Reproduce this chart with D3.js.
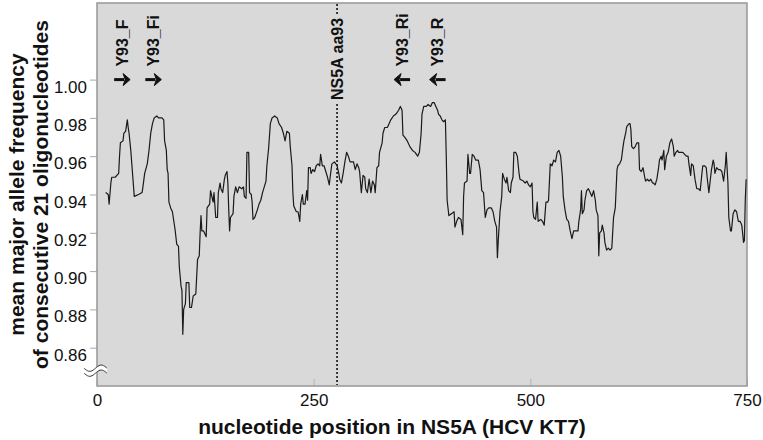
<!DOCTYPE html>
<html><head><meta charset="utf-8">
<script src="https://cdn.jsdelivr.net/npm/d3@7"></script>
<style>
html,body{margin:0;padding:0;background:#fff;}
svg{display:block;font-family:Arial,"Liberation Sans",sans-serif;}
</style></head>
<body><svg id="chart" width="763" height="440"></svg>
<script>
// ---- data ----
const positions = [10,13,14,16,17,21,25,26,27,30,31,33,35,36,37,39,41,43,48,52,53,55,58,60,62,64,66,69,71,73,75,77,78,80,81,82,83,85,87,90,92,94,95,97,98,99,100,102,103,106,107,109,111,114,116,118,119,120,121,123,126,127,130,131,132,134,135,137,139,140,142,143,145,147,148,150,151,152,153,154,157,158,160,162,164,167,169,170,172,173,175,176,178,179,180,182,185,187,189,191,193,195,196,198,200,202,205,208,210,213,215,217,219,222,223,225,226,227,230,232,234,235,237,238,240,242,243,244,246,247,249,251,253,255,257,258,260,262,264,266,268,269,271,274,277,279,280,282,284,286,288,290,292,294,296,298,300,302,303,305,307,309,310,312,314,316,318,320,321,323,325,326,329,330,332,335,337,339,342,345,348,350,351,352,353,355,358,361,364,367,370,372,374,375,377,380,382,385,387,389,391,393,394,396,398,400,402,403,404,406,409,412,413,415,417,420,422,423,424,427,428,430,431,433,435,437,440,442,444,446,448,450,452,455,457,459,461,462,463,465,467,468,470,472,473,475,477,478,480,481,483,485,487,488,492,494,496,498,500,502,503,504,506,508,509,512,514,516,518,520,521,523,525,527,529,531,533,535,537,538,540,542,544,546,548,550,553,555,556,558,559,560,562,563,565,567,569,571,573,575,576,578,579,580,582,583,585,586,588,590,592,594,596,598,600,601,603,605,607,608,610,611,612,614,615,616,617,619,621,623,625,626,628,630,632,633,635,637,639,641,642,644,646,648,649,651,652,654,655,657,659,661,663,665,666,668,670,671,673,676,678,680,682,683,685,686,688,690,692,694,696,698,699,701,703,704,706,708,709,711,712,713,715,717,719,721,723,725,726,728,729,731,732,734,736,738,740,742,744,746,747,748,749];
const frequencies = [.941,.940,.935,.946,.949,.949,.951,.960,.967,.968,.972,.973,.979,.975,.972,.963,.951,.939,.940,.941,.944,.951,.956,.963,.972,.977,.980,.981,.980,.980,.980,.979,.968,.963,.953,.951,.936,.933,.931,.922,.914,.913,.902,.892,.890,.867,.880,.883,.894,.894,.881,.881,.887,.888,.906,.908,.920,.929,.921,.921,.918,.933,.935,.942,.940,.936,.941,.928,.928,.941,.946,.943,.941,.948,.950,.952,.946,.932,.921,.928,.930,.939,.944,.941,.944,.943,.944,.939,.938,.962,.962,.941,.940,.936,.927,.928,.932,.935,.937,.941,.944,.947,.955,.964,.977,.980,.981,.980,.977,.975,.972,.968,.973,.972,.965,.955,.941,.934,.931,.931,.926,.935,.940,.935,.935,.942,.937,.954,.954,.951,.953,.952,.955,.956,.955,.961,.955,.955,.952,.949,.945,.949,.956,.957,.955,.951,.948,.946,.951,.957,.962,.960,.957,.957,.957,.953,.956,.954,.952,.941,.950,.949,.943,.941,.948,.941,.947,.945,.941,.954,.955,.962,.967,.972,.975,.975,.977,.979,.981,.982,.984,.986,.985,.984,.971,.970,.968,.965,.963,.962,.960,.962,.972,.982,.986,.986,.987,.986,.988,.988,.986,.984,.982,.981,.979,.978,.979,.960,.937,.929,.930,.931,.923,.926,.928,.927,.919,.939,.946,.947,.961,.951,.951,.961,.960,.958,.958,.953,.942,.941,.928,.932,.933,.933,.931,.926,.923,.907,.916,.931,.939,.951,.948,.946,.949,.942,.941,.946,.949,.962,.962,.960,.951,.948,.947,.946,.947,.945,.944,.946,.931,.928,.927,.936,.926,.927,.926,.924,.936,.936,.937,.956,.955,.958,.957,.962,.963,.960,.949,.939,.932,.927,.926,.921,.917,.921,.921,.921,.926,.932,.942,.930,.932,.937,.942,.943,.941,.939,.942,.937,.932,.929,.908,.920,.921,.924,.920,.915,.911,.912,.911,.912,.928,.933,.953,.955,.956,.958,.965,.968,.972,.975,.976,.977,.977,.974,.965,.964,.965,.967,.967,.953,.952,.954,.949,.947,.948,.947,.948,.946,.946,.945,.948,.954,.958,.960,.958,.963,.953,.960,.962,.967,.969,.965,.960,.962,.963,.962,.962,.962,.961,.960,.960,.956,.950,.956,.955,.948,.943,.943,.942,.951,.955,.955,.954,.949,.941,.949,.953,.958,.956,.951,.954,.953,.953,.952,.947,.955,.962,.946,.928,.921,.921,.930,.932,.931,.926,.926,.924,.915,.916,.937,.948];

const xTicks = [0, 250, 500, 750];
const yTicks = [0.86, 0.88, 0.90, 0.92, 0.94, 0.96, 0.98, 1.00];

const primerNames = ["Y93_F", "Y93_Fi", "Y93_Ri", "Y93_R"];
const primerPositions = [29, 65, 352, 393];
const primerDirections = ["forward", "forward", "reverse", "reverse"];

const markerLabel = "NS5A aa93";
const markerPosition = 277;

const xTitle = "nucleotide position in NS5A (HCV KT7)";
const yTitleLines = ["mean major allele frequency", "of consecutive 21 oligonucleotides"];

// ---- chart ----
const svg = d3.select("#chart");
const plot = {left: 97, right: 747, top: 3, bottom: 386};
const x = d3.scaleLinear().domain([0, 750]).range([plot.left, plot.right]);
const y = d3.scaleLinear().domain([0.84, 1.04]).range([plot.bottom, plot.top]);

const bg = "#d9d9d9";
svg.append("rect")
  .attr("x", plot.left).attr("y", plot.top)
  .attr("width", plot.right - plot.left).attr("height", plot.bottom - plot.top)
  .attr("fill", bg);

// y axis (ticks outward)
const yAxis = svg.append("g").attr("transform", `translate(${plot.left},0)`)
  .call(d3.axisLeft(y).tickValues(yTicks).tickFormat(d3.format(".2f")).tickSize(7).tickPadding(3));
yAxis.select(".domain").remove();
yAxis.selectAll(".tick line").attr("stroke", "#a8a8a8").attr("stroke-width", 1);
yAxis.selectAll(".tick text").attr("font-size", 17).attr("fill", "#111")
  .attr("dy", "0.74em")
  .attr("font-family", "Arial, 'Liberation Sans', sans-serif");

// x axis (ticks inward)
const xAxis = svg.append("g").attr("transform", `translate(0,${plot.bottom})`)
  .call(d3.axisBottom(x).tickValues(xTicks).tickFormat(d3.format("d")).tickSize(-7).tickPadding(8));
xAxis.select(".domain").remove();
xAxis.selectAll(".tick line").attr("stroke", "#b4b4b4").attr("stroke-width", 1);
xAxis.selectAll(".tick text").attr("font-size", 17).attr("fill", "#111")
  .attr("font-family", "Arial, 'Liberation Sans', sans-serif");

// frame
svg.append("rect")
  .attr("x", plot.left).attr("y", plot.top)
  .attr("width", plot.right - plot.left).attr("height", plot.bottom - plot.top)
  .attr("fill", "none").attr("stroke", "#9c9c9c").attr("stroke-width", 1.6);

// marker dashed line
const mx = x(markerPosition);
svg.append("line")
  .attr("x1", mx).attr("x2", mx).attr("y1", plot.top + 1).attr("y2", plot.bottom - 1)
  .attr("stroke", "#111").attr("stroke-width", 1.6).attr("stroke-dasharray", "2,2");

// data line
const series = positions.map((p, i) => ({p, v: frequencies[i]}));
svg.append("path")
  .datum(series)
  .attr("fill", "none").attr("stroke", "#1a1a1a").attr("stroke-width", 1.2)
  .attr("stroke-linejoin", "round")
  .attr("d", d3.line().x(d => x(d.p)).y(d => y(d.v)));

// marker label with background
const mTextBottom = 100;
const mg = svg.append("g").attr("transform", `translate(${mx},${mTextBottom}) rotate(-90)`);
const mt = mg.append("text")
  .attr("x", 0).attr("y", 0).attr("dy", "0.36em")
  .attr("font-size", 16).attr("font-weight", "bold").attr("fill", "#111")
  .text(markerLabel);
const bb = mt.node().getBBox();
mg.insert("rect", "text").attr("x", bb.x - 2).attr("y", bb.y - 1)
  .attr("width", bb.width + 4).attr("height", bb.height + 2).attr("fill", bg);

// primers
const arrowY = y(1.00);
primerNames.forEach((name, i) => {
  const px = x(primerPositions[i]);
  const g = svg.append("g");
  g.append("text")
    .attr("transform", `translate(${px},${arrowY - 13}) rotate(-90)`)
    .attr("dy", "0.36em")
    .attr("font-size", 16).attr("font-weight", "bold").attr("fill", "#111")
    .text(name);
  const dir = primerDirections[i] === "forward" ? 1 : -1;
  const tail = px - dir * 8, tipBase = px + dir * 1, tip = px + dir * 8;
  g.append("line")
    .attr("x1", tail).attr("x2", tipBase + dir * 1)
    .attr("y1", arrowY).attr("y2", arrowY)
    .attr("stroke", "#111").attr("stroke-width", 3);
  g.append("path")
    .attr("d", `M${tipBase},${arrowY - 6} L${tip},${arrowY} L${tipBase},${arrowY + 6} L${tipBase + dir * 2},${arrowY}Z`)
    .attr("fill", "#111").attr("stroke", "#111").attr("stroke-width", 1).attr("stroke-linejoin", "miter");
});

// axis break symbol
const by = y(0.848);
const bx0 = plot.left - 13, bx1 = plot.left + 10;
function wave(off) {
  return d3.range(0, 1.0001, 0.05).map(t => [bx0 + t * (bx1 - bx0), by + off + 3.2 * Math.sin(t * 2 * Math.PI)]);
}
const w1 = wave(-2.5), w2 = wave(2.5);
svg.append("path")
  .attr("d", d3.line()(w1.concat(w2.slice().reverse())) + "Z")
  .attr("fill", "#fff");
svg.append("path").attr("d", d3.line().curve(d3.curveBasis)(w1)).attr("fill", "none").attr("stroke", "#333").attr("stroke-width", 1);
svg.append("path").attr("d", d3.line().curve(d3.curveBasis)(w2)).attr("fill", "none").attr("stroke", "#333").attr("stroke-width", 1);

// titles
svg.append("text")
  .attr("x", 392).attr("y", 434)
  .attr("text-anchor", "middle")
  .attr("font-size", 21).attr("font-weight", "bold").attr("fill", "#111")
  .text(xTitle);

const cy = (plot.top + plot.bottom) / 2;
const yt = svg.append("text")
  .attr("transform", `translate(0,${cy}) rotate(-90)`)
  .attr("text-anchor", "middle")
  .attr("font-size", 21).attr("font-weight", "bold").attr("fill", "#111");
yt.append("tspan").attr("x", 0).attr("y", 24).text(yTitleLines[0]);
yt.append("tspan").attr("x", 0).attr("y", 48).text(yTitleLines[1]);
</script>
</body></html>
